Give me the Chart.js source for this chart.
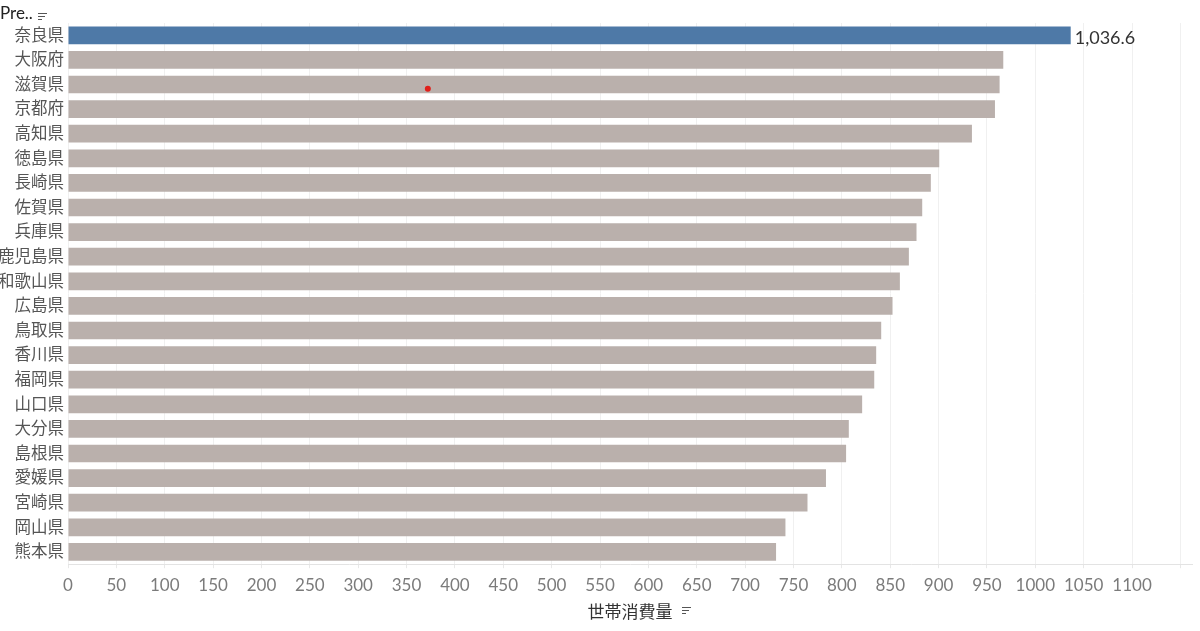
<!DOCTYPE html>
<html>
<head>
<meta charset="utf-8">
<script src="https://cdn.jsdelivr.net/npm/chart.js@4/dist/chart.umd.min.js"></script>
<style>
  body { margin: 0; background: #fff; }
  #wrap { position: relative; width: 1200px; height: 631px; }
  #hdr {
    position: absolute; left: 0; top: 2px;
    font: 17px Lato, 'Noto Sans CJK JP', sans-serif; color: #222;
  }
  .sort { display: inline-block; width: 9px; margin-left: 5px; vertical-align: -1px; }
  .sort i { display: block; height: 1.5px; background: #555; margin-top: 1.5px; }
  #xsort { position: absolute; left: 677px; top: 605px; }
</style>
</head>
<body>
<div id="wrap">
  <canvas id="chart"></canvas>
  <div id="hdr">Pre..<span class="sort"><i style="width:9px"></i><i style="width:7px"></i><i style="width:4px"></i></span></div>
  <span id="xsort" class="sort"><i style="width:9px"></i><i style="width:7px"></i><i style="width:4px"></i></span>
</div>
<script>
const prefectures = ['奈良県', '大阪府', '滋賀県', '京都府', '高知県', '徳島県', '長崎県', '佐賀県', '兵庫県', '鹿児島県', '和歌山県',
  '広島県', '鳥取県', '香川県', '福岡県', '山口県', '大分県', '島根県', '愛媛県', '宮崎県', '岡山県', '熊本県']
const consumption = [1036.6, 966.9, 963.1, 958.3, 934.5, 900.7, 892.0, 883.1, 877.2, 869.3, 860.0,
  852.4, 840.7, 835.5, 833.5, 821.0, 807.2, 804.4, 783.6, 764.5, 741.7, 732.0]
const xTicks = [0, 50, 100, 150, 200, 250, 300, 350, 400, 450, 500, 550, 600, 650, 700, 750, 800, 850, 900, 950,
  1000, 1050, 1100, 1150]
const xLabelled = [0, 50, 100, 150, 200, 250, 300, 350, 400, 450, 500, 550, 600, 650, 700, 750, 800, 850, 900, 950,
  1000, 1050, 1100]
const highlighted = '奈良県'
// stray red dot in the picture, a little below the centre of the 滋賀県 row (row index 2)
const cursorMark = [{ x: 372, y: 2.17 }]

const highlightCokir = '#4E79A7'
const otherCokir = '#BAB0AC'
const fontFamily = "Lato, 'Noto Sans CJK JP', sans-serif"

const valueLabel = {
  id: 'valueLabel',
  afterDatasetsDraw(chart) {
    const meta = chart.getDatasetMeta(1)
    const i = prefectures.indexOf(highlighted)
    const bar = meta.data[i]
    const ctx = chart.ctx
    ctx.save()
    ctx.font = '18px ' + fontFamily
    ctx.fillStyle = '#333'
    ctx.textAlign = 'left'
    ctx.textBaseline = 'middle'
    ctx.fillText(consumption[i].toLocaleString('en-US', { minimumFractionDigits: 1 }), bar.x + 4, bar.y + 3)
    ctx.restore()
  }
}

new Chart(document.getElementById('chart'), {
  type: 'bar',
  data: {
    labels: prefectures,
    datasets: [
      {
        type: 'scatter',
        data: cursorMark,
        yAxisID: 'yMark',
        pointRadius: 3,
        backgroundColor: '#e0201b',
        borderWidth: 0
      },
      {
        data: consumption,
        backgroundColor: prefectures.map(p => p === highlighted ? highlightCokir : otherCokir),
        borderWidth: 0,
        grouped: false,
        barPercentage: 0.72,
        categoryPercentage: 1
      }
    ]
  },
  options: {
    indexAxis: 'y',
    responsive: true,
    maintainAspectRatio: false,
    animation: false,
    layout: { padding: { top: 23, right: 8, left: 0, bottom: 8 } },
    plugins: {
      legend: { display: false },
      tooltip: { enabled: false }
    },
    scales: {
      x: {
        min: 0,
        max: 1162,
        afterBuildTicks: scale => { scale.ticks = xTicks.map(v => ({ value: v })) },
        grid: { color: '#f0f0f0', tickLength: 4, tickColor: '#e8e8e8' },
        border: { color: '#e3e3e3' },
        ticks: {
          autoSkip: false,
          maxRotation: 0,
          padding: 7,
          color: '#7b7b7b',
          font: { family: fontFamily, size: 17 },
          callback: v => xLabelled.includes(v) ? String(v) : ''
        },
        title: {
          display: true,
          text: '世帯消費量',
          color: '#333',
          font: { family: fontFamily, size: 17 },
          padding: { top: 0, bottom: 0 }
        }
      },
      y: {
        afterFit: scale => { scale.width = 68 },
        grid: { display: false, drawTicks: false, tickLength: 0 },
        border: { display: false },
        ticks: {
          padding: 4,
          color: '#555',
          font: { family: fontFamily, size: 16.5 }
        }
      },
      yMark: {
        type: 'linear',
        display: false,
        offset: false,
        grid: { offset: false },
        min: -0.5,
        max: 21.5,
        reverse: true
      }
    }
  },
  plugins: [valueLabel]
})
</script>
</body>
</html>
